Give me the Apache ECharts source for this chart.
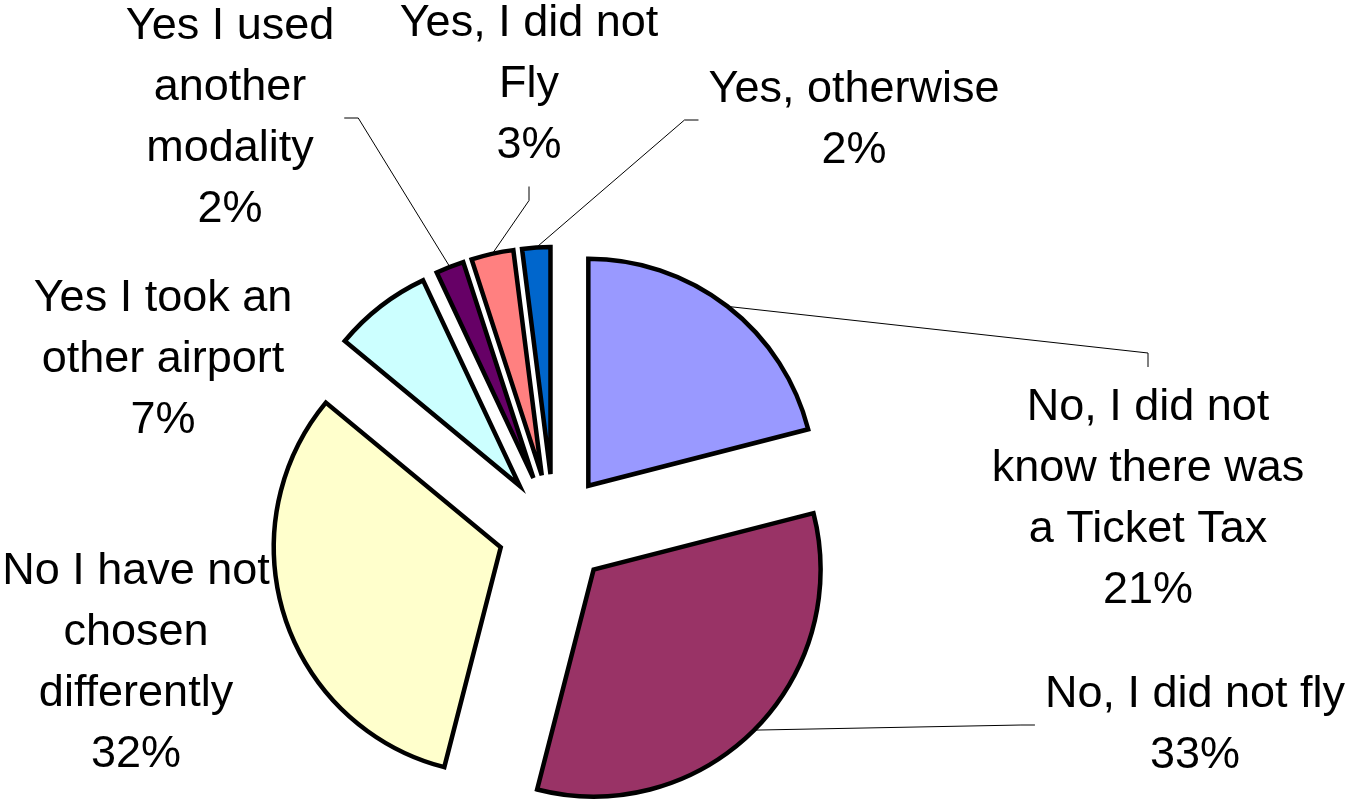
<!DOCTYPE html>
<html>
<head>
<meta charset="utf-8">
<script src="https://cdn.jsdelivr.net/npm/echarts@6/dist/echarts.min.js"></script>
<style>
html,body{margin:0;padding:0;background:#ffffff;}
#chart{width:1352px;height:799px;}
</style>
</head>
<body>
<div id="chart"></div>
<script>
// ---- data ----
const categories = [
  'No, I did not\nknow there was\na Ticket Tax',
  'No, I did not fly',
  'No I have not\nchosen\ndifferently',
  'Yes I took an\nother airport',
  'Yes I used\nanother\nmodality',
  'Yes, I did not\nFly',
  'Yes, otherwise'
];
const shares = [21, 33, 32, 7, 2, 3, 2];

// ---- styling / layout (kept separate from data) ----
const sliceColors = ['#9999FF', '#993366', '#FFFFCC', '#CCFFFF', '#660066', '#FF8080', '#0066CC'];
const labelCenters = [[1148, 499], [1195, 725], [136, 663], [163, 360], [230, 118], [529, 85], [854, 120]];
const leaderSide = ['top', 'left', null, null, 'right', 'bottom', 'left'];
const CENTER = [554, 530];
const RADIUS = 227;
const EXPLODE = 56;
const GAP = 10;
const ELBOW = 14;
const BORDER = 4.5;

const chart = echarts.init(document.getElementById('chart'), null, { renderer: 'canvas' });

function labelLayout(params) {
  const i = params.dataIndex;
  const lx = labelCenters[i][0], ly = labelCenters[i][1];
  const w = params.labelRect.width, h = params.labelRect.height;
  const res = { x: lx, y: ly, align: 'center', verticalAlign: 'middle' };
  const side = leaderSide[i];
  if (!side) return res;
  const lay = chart.getModel().getSeriesByIndex(params.seriesIndex).getData().getItemLayout(i);
  const mid = (lay.startAngle + lay.endAngle) / 2;
  const R = lay.r + EXPLODE;
  const p0 = [lay.cx + R * Math.cos(mid), lay.cy + R * Math.sin(mid)];
  let anchor, elbow;
  if (side === 'top') { anchor = [lx, ly - h / 2 - GAP]; elbow = [lx, anchor[1] - ELBOW]; }
  else if (side === 'bottom') { anchor = [lx, ly + h / 2 + GAP]; elbow = [lx, anchor[1] + ELBOW]; }
  else if (side === 'left') { anchor = [lx - w / 2 - GAP, ly]; elbow = [anchor[0] - ELBOW, ly]; }
  else { anchor = [lx + w / 2 + GAP, ly]; elbow = [anchor[0] + ELBOW, ly]; }
  res.labelLinePoints = [p0, elbow, anchor];
  return res;
}

const sliceData = categories.map((name, i) => ({
  name: name,
  value: shares[i],
  selected: true,
  itemStyle: { color: sliceColors[i], borderColor: '#000000', borderWidth: BORDER, borderJoin: 'miter' }
}));

const labelData = categories.map((name, i) => ({
  name: name,
  value: shares[i],
  labelLine: { show: !!leaderSide[i] }
}));

chart.setOption({
  backgroundColor: '#ffffff',
  animation: false,
  series: [
    {
      type: 'pie',
      center: CENTER,
      radius: RADIUS,
      startAngle: 90,
      clockwise: true,
      selectedMode: 'multiple',
      selectedOffset: EXPLODE,
      avoidLabelOverlap: false,
      silent: true,
      emphasis: { disabled: true },
      label: { show: false },
      labelLine: { show: false },
      itemStyle: { borderColor: '#000000', borderWidth: BORDER, borderJoin: 'miter' },
      select: { itemStyle: { borderColor: '#000000', borderWidth: BORDER, borderJoin: 'miter' } },
      data: sliceData
    },
    {
      type: 'pie',
      center: CENTER,
      radius: RADIUS,
      startAngle: 90,
      clockwise: true,
      percentPrecision: 0,
      avoidLabelOverlap: false,
      silent: true,
      emphasis: { disabled: true },
      itemStyle: { color: 'rgba(0,0,0,0)', borderWidth: 0 },
      label: {
        show: true,
        position: 'outside',
        formatter: '{b}\n{d}%',
        color: '#000000',
        fontFamily: '"Liberation Sans", Arial, sans-serif',
        fontSize: 45,
        lineHeight: 61,
        align: 'center'
      },
      labelLine: { show: true, lineStyle: { color: '#000000', width: 1 } },
      labelLayout: labelLayout,
      data: labelData
    }
  ]
});
</script>
</body>
</html>
